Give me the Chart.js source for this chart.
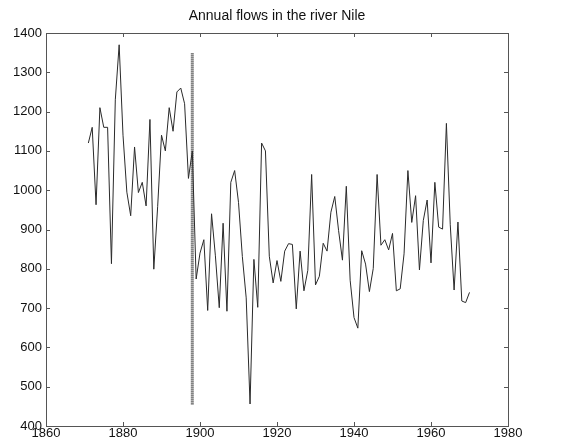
<!DOCTYPE html>
<html>
<head>
<meta charset="utf-8">
<script src="https://cdn.jsdelivr.net/npm/chart.js@4/dist/chart.umd.min.js"></script>
<style>
html,body{margin:0;padding:0;background:#fff;}
#wrap{width:565px;height:448px;}
</style>
</head>
<body>
<div id="wrap"><canvas id="c" width="565" height="448"></canvas></div>
<script>
const startYear = 1871;
const flows = [1120,1160,963,1210,1160,1160,813,1230,1370,1140,995,935,1110,994,1020,960,1180,799,958,1140,
1100,1210,1150,1250,1260,1220,1030,1100,774,840,874,694,940,833,701,916,692,1020,1050,969,
831,726,456,824,702,1120,1100,832,764,821,768,845,864,862,698,845,744,796,1040,759,
781,865,845,944,984,897,822,1010,771,676,649,846,812,742,801,1040,860,874,848,890,
744,749,838,1050,918,986,797,923,975,815,1020,906,901,1170,912,746,919,718,714,740];
const years = flows.map((v,i)=>startYear+i);
const changeYear = [1898, 1898];
const changeRange = [455, 1350];
const xTicks = [1860,1880,1900,1920,1940,1960,1980];
const yTicks = [400,500,600,700,800,900,1000,1100,1200,1300,1400];
const titleText = 'Annual flows in the river Nile';

const boxPlugin = {
  id:'box',
  afterDraw(chart){
    const {ctx, chartArea:a, scales:{x,y}} = chart;
    ctx.save();
    ctx.strokeStyle = '#555';
    ctx.lineWidth = 1;
    ctx.strokeRect(Math.round(a.left)+0.5, Math.round(a.top)+0.5, Math.round(a.right-a.left), Math.round(a.bottom-a.top));
    ctx.beginPath();
    const L=4;
    xTicks.forEach(t=>{
      const px = Math.round(x.getPixelForValue(t))+0.5;
      ctx.moveTo(px,a.bottom); ctx.lineTo(px,a.bottom-L);
      ctx.moveTo(px,a.top); ctx.lineTo(px,a.top+L);
    });
    yTicks.forEach(t=>{
      const py = Math.round(y.getPixelForValue(t))+0.5;
      ctx.moveTo(a.left,py); ctx.lineTo(a.left+L,py);
      ctx.moveTo(a.right,py); ctx.lineTo(a.right-L,py);
    });
    ctx.stroke();
    ctx.fillStyle = '#111';
    ctx.font = '14px "Liberation Sans", Arial, sans-serif';
    ctx.textAlign = 'center';
    ctx.textBaseline = 'middle';
    ctx.fillText(titleText, (a.left+a.right)/2, 16);
    ctx.restore();
  }
};

new Chart(document.getElementById('c'), {
  type:'line',
  data:{
    datasets:[
      {data: years.map((yr,i)=>({x:yr,y:flows[i]})), borderColor:'#2a2a2a', borderWidth:1, pointRadius:0, tension:0, fill:false},
      {data: changeYear.map((yr,i)=>({x:yr,y:changeRange[i]})), borderColor:'#333', borderWidth:3, borderDash:[1,1], pointRadius:0, fill:false}
    ]
  },
  options:{
    responsive:false,
    animation:false,
    events:[],
    layout:{padding:{left:0,right:57,top:33,bottom:0}},
    plugins:{
      legend:{display:false},
      tooltip:{enabled:false},
      title:{display:false}
    },
    scales:{
      x:{type:'linear',min:1860,max:1980,
        afterBuildTicks(s){s.ticks = xTicks.map(v=>({value:v}));},
        afterFit(s){s.height=22;},
        grid:{display:false,drawTicks:false},
        border:{display:false},
        ticks:{color:'#111',padding:0,maxRotation:0,autoSkip:false,
          font:{family:'Liberation Sans, Arial, sans-serif',size:13},
          callback:v=>String(v)}
      },
      y:{min:400,max:1400,
        afterBuildTicks(s){s.ticks = yTicks.map(v=>({value:v}));},
        afterFit(s){s.width=46;},
        grid:{display:false,drawTicks:false},
        border:{display:false},
        ticks:{color:'#111',padding:4,autoSkip:false,
          font:{family:'Liberation Sans, Arial, sans-serif',size:13},
          callback:v=>String(v)}
      }
    }
  },
  plugins:[boxPlugin]
});
</script>
</body>
</html>
